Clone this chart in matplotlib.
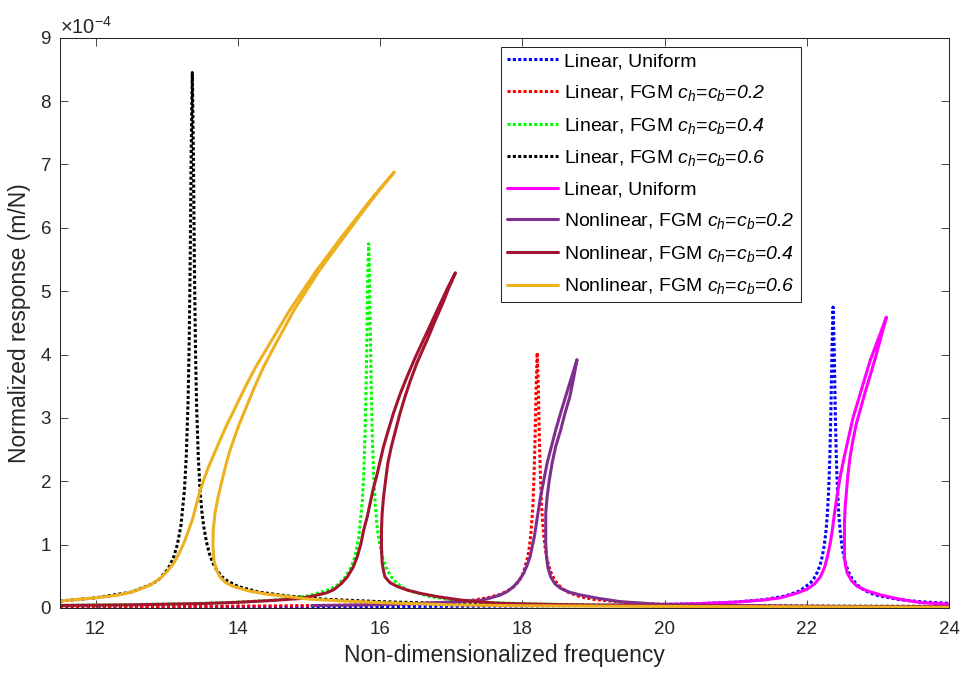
import matplotlib
matplotlib.use("Agg")
import matplotlib.pyplot as plt
from matplotlib.ticker import ScalarFormatter

plt.rcParams['font.family'] = ['Liberation Sans', 'DejaVu Sans']
plt.rcParams['mathtext.fontset'] = 'custom'
plt.rcParams['mathtext.rm'] = 'Liberation Sans'
plt.rcParams['mathtext.it'] = 'Liberation Sans:italic'
plt.rcParams['mathtext.sf'] = 'Liberation Sans:italic'
plt.rcParams['axes.unicode_minus'] = False

SCALE = 1e-4  # response values below are in units of 1e-4 m/N

# ---- linear responses (dotted) ----
lin_uniform_x = [11.5, 13, 15, 17, 18, 19, 20, 20.5, 21, 21.4, 21.7, 21.9, 22.05, 22.1, 22.15,
                 22.19, 22.22, 22.245, 22.27, 22.29, 22.31, 22.325, 22.34, 22.355, 22.37,
                 22.385, 22.40, 22.415, 22.43, 22.45, 22.47, 22.495, 22.52, 22.55, 22.59,
                 22.64, 22.7, 22.77, 22.85, 22.92, 23.0, 23.3, 23.6, 24.0]
lin_uniform_y = [0.015, 0.017, 0.020, 0.027, 0.032, 0.040, 0.056, 0.070, 0.094, 0.132, 0.190,
                 0.269, 0.393, 0.464, 0.568, 0.69, 0.824, 0.982, 1.211, 1.485, 1.913, 2.40,
                 3.136, 4.13, 4.75, 4.13, 3.136, 2.40, 1.913, 1.485, 1.209, 0.978, 0.819,
                 0.686, 0.563, 0.458, 0.375, 0.309, 0.258, 0.225, 0.196, 0.132, 0.099, 0.074]

lin_c02_x = [11.5, 12.5, 13.5, 14.5, 15.5, 16.0, 16.5, 17.0, 17.3, 17.5, 17.7, 17.85, 17.9,
             17.95, 18.0, 18.03, 18.08, 18.1, 18.12, 18.15, 18.165, 18.18, 18.195, 18.21,
             18.225, 18.24, 18.255, 18.27, 18.285, 18.30, 18.32, 18.34, 18.37, 18.40, 18.45,
             18.5, 18.57, 18.65, 18.8, 19.0, 19.5, 20, 21, 22, 23, 24]
lin_c02_y = [0.020, 0.023, 0.027, 0.033, 0.044, 0.053, 0.067, 0.094, 0.124, 0.158, 0.218,
             0.308, 0.357, 0.426, 0.52, 0.614, 0.817, 0.97, 1.150, 1.631, 2.09, 2.677, 3.51,
             4.03, 3.51, 2.69, 2.08, 1.661, 1.37, 1.163, 0.966, 0.822, 0.675, 0.569, 0.452,
             0.374, 0.30, 0.246, 0.183, 0.136, 0.082, 0.058, 0.037, 0.026, 0.020, 0.016]

lin_c04_x = [11.5, 12.5, 13.5, 14.0, 14.5, 15.0, 15.3, 15.4, 15.5, 15.6, 15.65, 15.7, 15.75,
             15.77, 15.79, 15.805, 15.815, 15.828, 15.84, 15.852, 15.865, 15.875, 15.89,
             15.91, 15.93, 15.955, 15.98, 16.03, 16.08, 16.14, 16.2, 16.3, 16.4, 16.7, 17.0,
             17.5, 18, 19, 20, 21, 22, 23, 24]
lin_c04_y = [0.042, 0.053, 0.073, 0.091, 0.123, 0.193, 0.297, 0.363, 0.469, 0.658, 0.826,
             1.110, 1.678, 2.10, 2.758, 3.55, 4.23, 5.27, 5.75, 5.27, 4.255, 3.55, 2.772,
             2.10, 1.678, 1.33, 1.103, 0.818, 0.653, 0.52, 0.434, 0.338, 0.277, 0.179, 0.131,
             0.090, 0.068, 0.045, 0.034, 0.026, 0.021, 0.018, 0.015]

lin_c06_x = [11.5, 12.0, 12.5, 12.8, 12.9, 13.0, 13.05, 13.1, 13.15, 13.2, 13.25, 13.275,
             13.3, 13.315, 13.33, 13.345, 13.36, 13.375, 13.39, 13.405, 13.42, 13.445, 13.47,
             13.495, 13.52, 13.56, 13.6, 13.65, 13.7, 13.77, 13.85, 14.0, 14.3, 14.7, 15.2,
             16, 17, 18, 19, 20, 21, 22, 23, 24]
lin_c06_y = [0.11, 0.16, 0.25, 0.38, 0.46, 0.59, 0.68, 0.81, 1.00, 1.30, 1.86, 2.38, 3.23,
             4.08, 5.39, 7.23, 8.45, 7.23, 5.39, 4.08, 3.22, 2.37, 1.85, 1.52, 1.29, 1.04,
             0.86, 0.71, 0.61, 0.50, 0.43, 0.34, 0.25, 0.19, 0.14, 0.10, 0.07, 0.055, 0.045,
             0.04, 0.035, 0.03, 0.028, 0.025]

# ---- nonlinear responses (solid, folded branches traced in order) ----
nl_uniform_x = [20.0, 20.5, 21.0, 21.4, 21.63, 21.85, 22.01, 22.11, 22.19, 22.25, 22.29,
                22.33, 22.36, 22.39, 22.43, 22.475, 22.53, 22.59, 22.65, 22.73, 22.81,
                22.89, 22.99, 23.12,
                23.05, 22.97, 22.90, 22.83, 22.765, 22.70, 22.65, 22.61, 22.58, 22.56,
                22.54, 22.53, 22.53, 22.53, 22.545, 22.57, 22.63, 22.71, 22.85, 23.04, 23.3,
                23.6, 24.0]
nl_uniform_y = [0.056, 0.070, 0.092, 0.128, 0.16, 0.23, 0.30, 0.38, 0.49, 0.64, 0.81,
                1.02, 1.23, 1.5, 1.8, 2.1, 2.4, 2.7, 3.0, 3.3, 3.6,
                3.9, 4.2, 4.59,
                4.3, 3.97, 3.70, 3.44, 3.18, 2.92, 2.65, 2.39, 2.12, 1.86,
                1.60, 1.34, 1.07, 0.81, 0.67, 0.55, 0.43, 0.34, 0.27, 0.205, 0.14,
                0.085, 0.06]

nl_c02_x = [15.04, 15.5, 16.0, 16.5, 17.0, 17.2, 17.41, 17.56, 17.69, 17.79, 17.88, 17.96,
            18.02, 18.07, 18.11, 18.14, 18.17, 18.21, 18.25, 18.30, 18.35, 18.41, 18.47,
            18.54, 18.61, 18.69, 18.77,
            18.72, 18.67, 18.60, 18.54, 18.47, 18.42, 18.38, 18.35, 18.33, 18.33, 18.33,
            18.34, 18.36, 18.40, 18.46, 18.54, 18.66, 18.82, 19.08, 19.38, 19.9, 20.5, 21,
            22, 23, 24]
nl_c02_y = [0.038, 0.044, 0.053, 0.067, 0.094, 0.105, 0.12, 0.16, 0.205, 0.26, 0.34, 0.44,
            0.55, 0.68, 0.81, 0.97, 1.13, 1.42, 1.71, 2.00, 2.29, 2.55, 2.81,
            3.08, 3.34, 3.63, 3.92,
            3.62, 3.34, 3.07, 2.81, 2.55, 2.29, 2.02, 1.76, 1.50, 1.23, 1.02,
            0.81, 0.64, 0.49, 0.38, 0.31, 0.25, 0.205, 0.15, 0.10, 0.06, 0.045, 0.037,
            0.027, 0.021, 0.017]

nl_c04_x = [11.5, 12.5, 13.5, 14.0, 14.5, 14.88, 15.1, 15.25, 15.35, 15.45, 15.54, 15.62,
            15.68, 15.73, 15.77, 15.82, 15.86, 15.90, 15.95, 16.0, 16.05, 16.12, 16.19,
            16.28, 16.38, 16.49, 16.61, 16.73, 16.85, 16.95, 17.06,
            16.97, 16.89, 16.78, 16.67, 16.59, 16.52, 16.43, 16.35, 16.28, 16.22, 16.16,
            16.11, 16.08, 16.05, 16.03, 16.02, 16.02, 16.03, 16.05, 16.07, 16.14, 16.24,
            16.39, 16.57, 16.8, 17.13, 17.4, 17.69, 18, 19, 20, 21, 22, 23, 24]
nl_c04_y = [0.04, 0.05, 0.07, 0.09, 0.12, 0.15, 0.20, 0.24, 0.29, 0.38, 0.49, 0.64,
            0.81, 1.01, 1.23, 1.44, 1.65, 1.86, 2.07, 2.31, 2.55, 2.82, 3.08,
            3.37, 3.65, 3.94, 4.23, 4.52, 4.81, 5.05, 5.29,
            5.06, 4.83, 4.55, 4.25, 4.05, 3.87, 3.60, 3.33, 3.07, 2.81, 2.55,
            2.29, 2.03, 1.76, 1.50, 1.23, 0.97, 0.71, 0.58, 0.49, 0.40, 0.34,
            0.28, 0.23, 0.18, 0.126, 0.095, 0.074, 0.065, 0.045, 0.035, 0.028, 0.022,
            0.019, 0.016]

nl_c06_x = [11.5, 12.0, 12.3, 12.5, 12.63, 12.78, 12.91, 13.01, 13.10, 13.17, 13.24, 13.30,
            13.36, 13.41, 13.46, 13.52, 13.59, 13.67, 13.75, 13.85, 13.98, 14.11, 14.25,
            14.41, 14.57, 14.73, 14.91, 15.09, 15.29, 15.49, 15.70, 15.91, 16.2,
            15.925, 15.72, 15.525, 15.325, 15.13, 14.96, 14.79, 14.645, 14.50, 14.36, 14.24,
            14.13, 14.02, 13.94, 13.88, 13.84, 13.78, 13.725, 13.68, 13.655, 13.65, 13.665,
            13.70, 13.75, 13.83, 13.94, 14.15, 14.4, 14.71, 15.0, 15.5, 16,
            17, 18, 19, 20, 22, 24]
nl_c06_y = [0.11, 0.16, 0.20, 0.25, 0.30, 0.37, 0.47, 0.58, 0.71, 0.85, 1.02, 1.20,
            1.39, 1.60, 1.81, 2.02, 2.23, 2.44, 2.65, 2.9, 3.2, 3.5, 3.8,
            4.1, 4.4, 4.7, 5.0, 5.3, 5.6, 5.9, 6.2, 6.5, 6.88,
            6.5, 6.2, 5.9, 5.6, 5.3, 5.0, 4.7, 4.4, 4.1, 3.8, 3.5,
            3.2, 2.9, 2.65, 2.45, 2.29, 2.02, 1.76, 1.50, 1.23, 0.98, 0.75,
            0.60, 0.49, 0.40, 0.34, 0.27, 0.22, 0.18, 0.14, 0.11, 0.085,
            0.05, 0.035, 0.03, 0.025, 0.018, 0.012]

labels = [
    "Linear, Uniform",
    r"Linear, FGM $c_h$=$c_b$=$\mathsf{0.2}$",
    r"Linear, FGM $c_h$=$c_b$=$\mathsf{0.4}$",
    r"Linear, FGM $c_h$=$c_b$=$\mathsf{0.6}$",
    "Linear, Uniform",
    r"Nonlinear, FGM $c_h$=$c_b$=$\mathsf{0.2}$",
    r"Nonlinear, FGM $c_h$=$c_b$=$\mathsf{0.4}$",
    r"Nonlinear, FGM $c_h$=$c_b$=$\mathsf{0.6}$",
]

fig = plt.figure(figsize=(9.68, 6.79), dpi=100)
ax = fig.add_axes([60 / 968, 1 - 608 / 679, 889 / 968, 570.3 / 679])

dot = dict(lw=2.2, linestyle=(0, (1, 0.75)), dash_capstyle='butt')
solid = dict(lw=2.2, solid_capstyle='round', solid_joinstyle='round')

series = [
    (lin_uniform_x, lin_uniform_y, '#0000ff', dot),
    (lin_c02_x, lin_c02_y, '#ff0000', dot),
    (lin_c04_x, lin_c04_y, '#00ff00', dot),
    (lin_c06_x, lin_c06_y, '#000000', dot),
    (nl_uniform_x, nl_uniform_y, '#ff00ff', solid),
    (nl_c02_x, nl_c02_y, '#7e2f8e', solid),
    (nl_c04_x, nl_c04_y, '#a2142f', solid),
    (nl_c06_x, nl_c06_y, '#edb120', solid),
]
for (xs, ys, col, style), lab in zip(series, labels):
    ax.plot(xs, [v * SCALE for v in ys], color=col, label=lab, **style)

ax.set_xlim(11.5, 24)
ax.set_ylim(0, 9e-4)
ax.set_xticks([12, 14, 16, 18, 20, 22, 24])
ax.set_yticks([i * 1e-4 for i in range(10)])

fmt = ScalarFormatter(useMathText=True)
fmt.set_powerlimits((-3, 4))
ax.yaxis.set_major_formatter(fmt)

axis_col = '#262626'
for s in ax.spines.values():
    s.set_color(axis_col)
    s.set_linewidth(0.75)
ax.tick_params(direction='in', length=6, width=0.6, colors=axis_col,
               labelsize=13.5, top=True, right=True)
ax.tick_params(axis='x', pad=9)
ax.tick_params(axis='y', pad=6)
ax.yaxis.get_offset_text().set_fontsize(14.5)
ax.yaxis.get_offset_text().set_color(axis_col)

ax.set_xlabel("Non-dimensionalized frequency", fontsize=16.5, color=axis_col, labelpad=5)
ax.set_ylabel("Normalized response (m/N)", fontsize=16.5, color=axis_col, labelpad=6)

leg = ax.legend(loc='upper left', bbox_to_anchor=(0.496, 0.984), borderaxespad=0,
                fontsize=14, frameon=True, fancybox=False, framealpha=1,
                edgecolor='#262626', handlelength=2.65, handletextpad=0.3,
                borderpad=0.3, labelspacing=0.65)
leg.get_frame().set_linewidth(0.75)

fig.savefig("out.png", dpi=100)
